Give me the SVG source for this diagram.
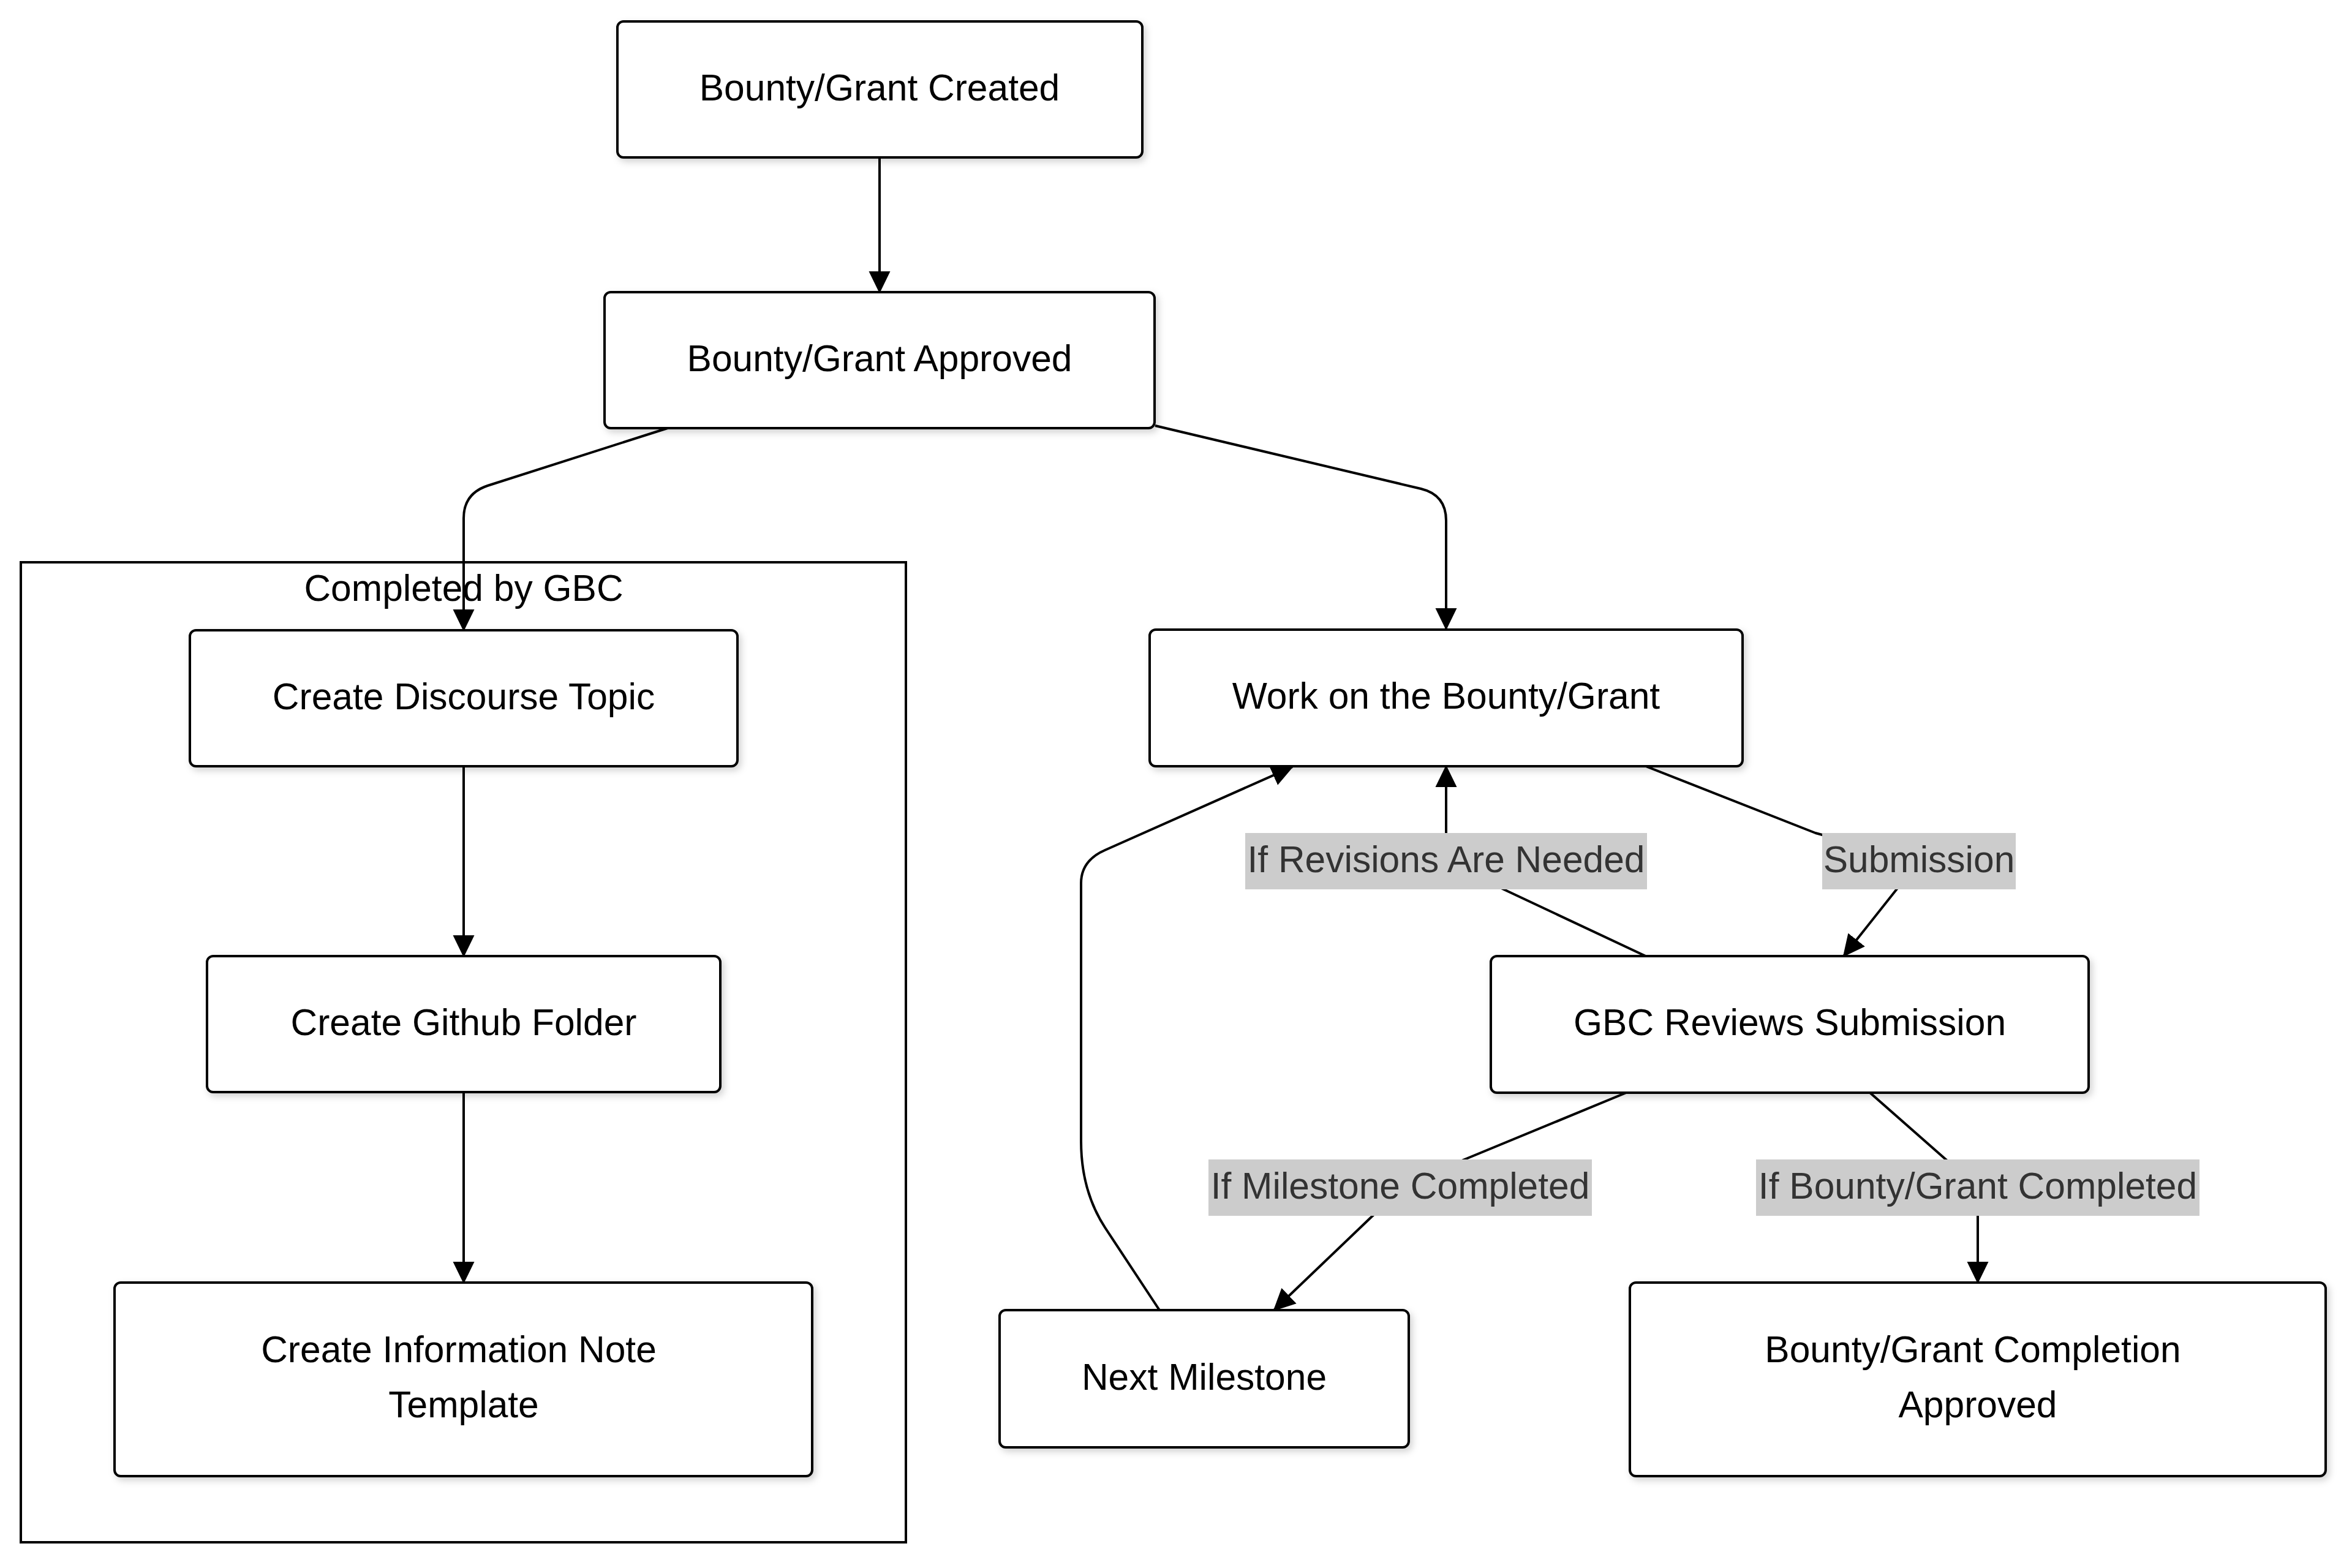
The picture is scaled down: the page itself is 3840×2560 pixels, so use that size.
<svg xmlns="http://www.w3.org/2000/svg" width="3840" height="2560" viewBox="0 0 3840 2560">
<style>
.node rect{fill:#ffffff;stroke:#000000;stroke-width:4;filter:url(#shadow)}
.node text{font-family:"Liberation Sans",Arial,sans-serif;font-size:60.5px;fill:#000000;text-anchor:middle}
.cluster rect{fill:#ffffff;stroke:#000000;stroke-width:4}
.cluster text{font-family:"Liberation Sans",Arial,sans-serif;font-size:60.5px;fill:#000000;text-anchor:middle}
.edge{fill:none;stroke:#000000;stroke-width:4;stroke-linejoin:round}
.arrow{marker-end:url(#arrowhead)}
.lbl rect{fill:#cccccc;stroke:none}
.lbl text{font-family:"Liberation Sans",Arial,sans-serif;font-size:60.5px;fill:#333333;text-anchor:middle}
</style>
<defs>
<filter id="shadow" x="-10%" y="-20%" width="130%" height="150%">
<feDropShadow dx="4" dy="5" stdDeviation="6" flood-color="#000000" flood-opacity="0.18"/>
</filter>
<marker id="arrowhead" markerUnits="userSpaceOnUse" markerWidth="36" markerHeight="36" viewBox="0 0 36 36" refX="34" refY="18" orient="auto">
<path d="M0,0.5 L36,18 L0,35.5 z" fill="#000000"/>
</marker>
</defs>
<rect x="0" y="0" width="3840" height="2560" fill="#ffffff"/>

<g id="cluster-gbc" class="cluster">
<rect x="34" y="918" width="1445" height="1600"/>
<text x="757" y="981">Completed by GBC</text>
</g>

<g id="connectors">
<path class="edge arrow" d="M1436,257 L1436,477"/>
<path class="edge arrow" d="M1090,699 L796,793 Q757,806 757,846 L757,1029"/>
<path class="edge arrow" d="M1886,695 L2320,798 Q2361,808 2361,850 L2361,1027"/>
<path class="edge arrow" d="M757,1251 L757,1561"/>
<path class="edge arrow" d="M757,1783 L757,2094"/>
<path class="edge arrow" d="M2687,1251 L2964,1360 L3133,1406 L3010,1561"/>
<path class="edge arrow" d="M2689,1562 L2455,1452 L2361,1406 L2361,1251"/>
<path class="edge arrow" d="M2655,1784 L2391,1893 L2286,1940 L2241,1985 L2080,2139"/>
<path class="edge arrow" d="M3053,1784 L3178,1894 L3229,1940 L3229,2094"/>
<path class="edge arrow" d="M1893,2139 L1804,2004 Q1765,1944 1765,1863 L1765,1442 Q1765,1405 1804,1388 L2110,1252"/>
<g class="lbl">
<rect x="2033" y="1360" width="656" height="92"/>
<text x="2361" y="1424">If Revisions Are Needed</text>
</g>
<g class="lbl">
<rect x="2975" y="1360" width="316" height="92"/>
<text x="3133" y="1424">Submission</text>
</g>
<g class="lbl">
<rect x="1973" y="1893" width="626" height="92"/>
<text x="2286" y="1957">If Milestone Completed</text>
</g>
<g class="lbl">
<rect x="2867" y="1893" width="724" height="92"/>
<text x="3229" y="1957">If Bounty/Grant Completed</text>
</g>
</g>

<g id="node-created" class="node">
<rect x="1008" y="35" width="857" height="222" rx="10" ry="10"/>
<text x="1436" y="164">Bounty/Grant Created</text>
</g>
<g id="node-approved" class="node">
<rect x="987" y="477" width="898" height="222" rx="10" ry="10"/>
<text x="1436" y="606">Bounty/Grant Approved</text>
</g>
<g id="node-discourse" class="node">
<rect x="310" y="1029" width="894" height="222" rx="10" ry="10"/>
<text x="757" y="1158">Create Discourse Topic</text>
</g>
<g id="node-github" class="node">
<rect x="338" y="1561" width="838" height="222" rx="10" ry="10"/>
<text x="757" y="1690">Create Github Folder</text>
</g>
<g id="node-infonote" class="node">
<rect x="187" y="2094" width="1139" height="316" rx="10" ry="10"/>
<text x="749" y="2224">Create Information Note</text>
<text x="757" y="2314">Template</text>
</g>
<g id="node-work" class="node">
<rect x="1877" y="1028" width="968" height="223" rx="10" ry="10"/>
<text x="2361" y="1157">Work on the Bounty/Grant</text>
</g>
<g id="node-review" class="node">
<rect x="2434" y="1561" width="976" height="223" rx="10" ry="10"/>
<text x="2922" y="1690">GBC Reviews Submission</text>
</g>
<g id="node-milestone" class="node">
<rect x="1632" y="2139" width="668" height="224" rx="10" ry="10"/>
<text x="1966" y="2269">Next Milestone</text>
</g>
<g id="node-completion" class="node">
<rect x="2661" y="2094" width="1136" height="316" rx="10" ry="10"/>
<text x="3221" y="2224">Bounty/Grant Completion</text>
<text x="3229" y="2314">Approved</text>
</g>
</svg>
